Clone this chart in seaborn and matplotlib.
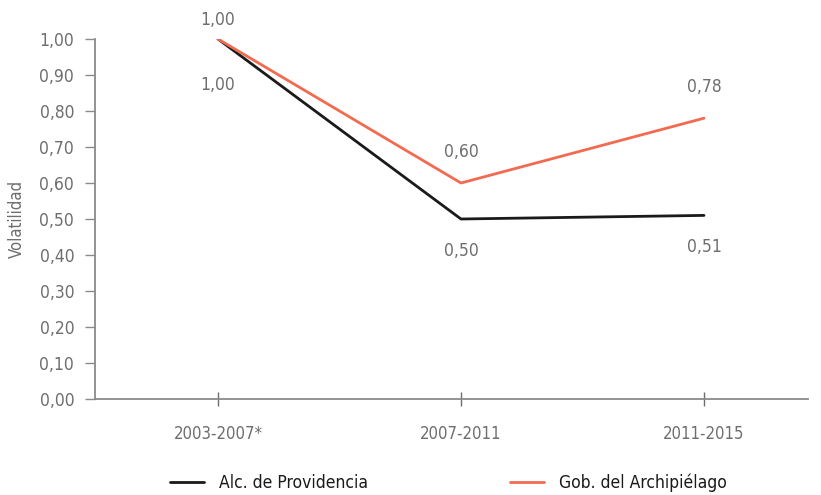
import seaborn as sns
import pandas as pd
import matplotlib.pyplot as plt

# Data
periodos = ['2003-2007*', '2007-2011', '2011-2015']
alc_providencia = [1.00, 0.50, 0.51]
gob_archipielago = [1.00, 0.60, 0.78]
series_names = ['Alc. de Providencia', 'Gob. del Archipiélago']
yticks = [0.0, 0.1, 0.2, 0.3, 0.4, 0.5, 0.6, 0.7, 0.8, 0.9, 1.0]

df = pd.DataFrame({
    'Periodo': periodos * 2,
    'Volatilidad': alc_providencia + gob_archipielago,
    'Serie': [series_names[0]] * 3 + [series_names[1]] * 3,
})

sns.set_style('white')
plt.rcParams['font.family'] = ['DejaVu Sans']
plt.rcParams['font.stretch'] = 'condensed'

grey = '#6d6e70'
palette = {series_names[0]: '#1a1a1a', series_names[1]: '#f26b50'}

fig = plt.figure(figsize=(8.21, 4.95), dpi=100)
ax = fig.add_axes([95 / 821, 1 - 399 / 495, (808 - 95) / 821, 360 / 495])

sns.lineplot(data=df, x='Periodo', y='Volatilidad', hue='Serie', palette=palette,
             linewidth=2, sort=False, ax=ax, legend=False)

# Value labels: black below the line, orange above (offsets in pixels)
px = 0.72
for i, v in enumerate(alc_providencia):
    off = 46 if i == 0 else 32
    ax.annotate(f'{v:.2f}'.replace('.', ','), (i, v), xytext=(0, -off * px),
                textcoords='offset points', ha='center', va='center',
                fontsize=12.5, color=grey, annotation_clip=False)
for i, v in enumerate(gob_archipielago):
    off = 19 if i == 0 else 31
    ax.annotate(f'{v:.2f}'.replace('.', ','), (i, v), xytext=(0, off * px),
                textcoords='offset points', ha='center', va='center',
                fontsize=12.5, color=grey, annotation_clip=False)

ax.set_xlim(-0.506, 2.428)
ax.set_ylim(0, 1.0)
ax.set_yticks(yticks)
ax.set_yticklabels([f'{t:.2f}'.replace('.', ',') for t in yticks])

for s in ['top', 'right']:
    ax.spines[s].set_visible(False)
for s in ['left', 'bottom']:
    ax.spines[s].set_color('#8a8a8a')
    ax.spines[s].set_linewidth(1.3)

ax.tick_params(axis='y', left=True, direction='out', length=7, width=1, color='#8a8a8a',
               labelsize=12.5, labelcolor=grey, pad=8)
ax.tick_params(axis='x', bottom=True, direction='inout', length=10, width=1, color='#6d6e70',
               labelsize=12, labelcolor=grey, pad=14)
ax.set_xlabel('')
ax.set_ylabel('Volatilidad', fontsize=12, color=grey, labelpad=10)

# Legend below, two entries placed separately
handles = [plt.Line2D([], [], color=palette[n], linewidth=2) for n in series_names]
for h, n, x0 in zip(handles, series_names, [154 / 821, 494 / 821]):
    fig.legend([h], [n], loc='center left', bbox_to_anchor=(x0, 0.025),
               frameon=False, fontsize=12.5, handlelength=2.0, handletextpad=0.85,
               labelcolor='#1a1a1a')

fig.savefig('out.png', dpi=100)
